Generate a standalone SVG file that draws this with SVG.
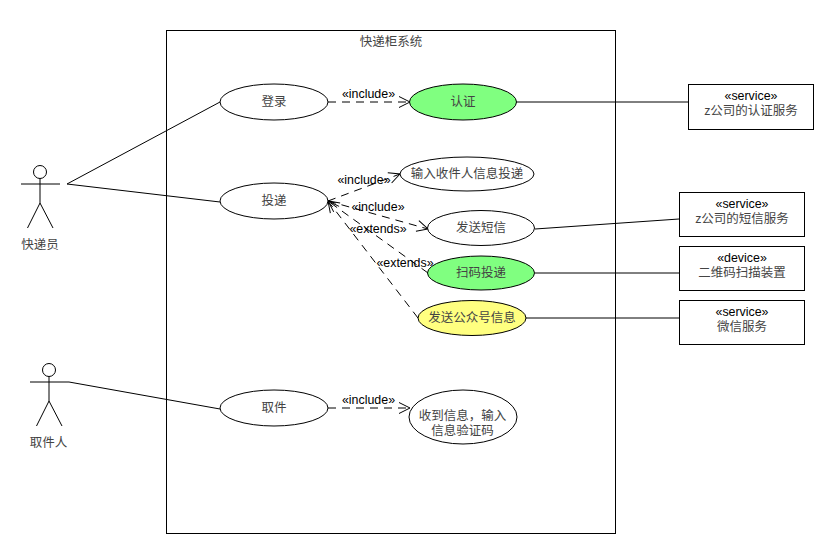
<svg xmlns="http://www.w3.org/2000/svg" width="834" height="550" viewBox="0 0 834 550">
<style>
text{font-family:"Noto Sans CJK SC","Liberation Sans",sans-serif;font-size:12.500px;font-weight:400;text-anchor:middle;fill:#444}
.lat{font-family:"Liberation Sans","Noto Sans CJK SC",sans-serif;font-size:12.400px;font-weight:400;fill:#000}
.s{fill:none;stroke:#000;stroke-width:1}
.d{fill:none;stroke:#000;stroke-width:1;stroke-dasharray:8 6}
.e{fill:#fff;stroke:#000;stroke-width:1}
.g{fill:#80ff80;stroke:#000;stroke-width:1}
.y{fill:#ffff80;stroke:#000;stroke-width:1}
.b{fill:#fff;stroke:#000;stroke-width:1}
</style>
<defs>
<marker id="open" markerUnits="userSpaceOnUse" markerWidth="14" markerHeight="14" refX="12" refY="7" orient="auto"><path d="M1 1.500L12 7L1 12.500" fill="none" stroke="#000"/></marker>
</defs>
<rect width="834" height="550" fill="#fff"/>
<g id="system"><rect x="166.500" y="30.500" width="449" height="503" class="b"/><text x="391" y="46">快递柜系统</text></g>
<g id="connectors">
<path class="s" d="M67 184L220 102M67 184L220 202M69 382L220 409M516 102H688M535 229L679 219M535 273H679M526 318H679"/>
<path class="d" marker-end="url(#open)" d="M328 102H410"/>
<path class="d" marker-end="url(#open)" d="M328 408H410"/>
<path class="d" marker-end="url(#open)" d="M328 201L400 174"/>
<path class="d" marker-end="url(#open)" d="M328 201L428 229"/>
<path class="d" marker-end="url(#open)" d="M428 273L328 201"/>
<path class="d" marker-end="url(#open)" d="M418 318L328 201"/>
<text class="lat" x="368.500" y="98">«include»</text>
<text class="lat" x="364" y="184">«include»</text>
<text class="lat" x="378" y="211">«include»</text>
<text class="lat" x="378" y="233">«extends»</text>
<text class="lat" x="405" y="267">«extends»</text>
<text class="lat" x="368.500" y="404">«include»</text>
</g>
<g id="actor-courier"><circle cx="40" cy="172" r="6.500" fill="#fff" stroke="#000"/><path class="s" d="M40 178.500V203M21 184H60M40 203L27.500 228M40 203L53 228"/><text x="40" y="249">快递员</text></g>
<g id="actor-recipient"><circle cx="49" cy="370" r="6.500" fill="#fff" stroke="#000"/><path class="s" d="M49 376.500V401M30 382H69M49 401L36.500 426M49 401L62 426"/><text x="48.500" y="447">取件人</text></g>
<g id="uc-login"><ellipse cx="274" cy="102" rx="54" ry="18" class="e"/><text x="274" y="106">登录</text></g>
<g id="uc-auth"><ellipse cx="463" cy="102" rx="53.500" ry="18" class="g"/><text x="463" y="106">认证</text></g>
<g id="uc-deliver"><ellipse cx="274" cy="201" rx="54" ry="18" class="e"/><text x="274" y="205">投递</text></g>
<g id="uc-input"><ellipse cx="467" cy="174" rx="67" ry="17" class="e"/><text x="467" y="178">输入收件人信息投递</text></g>
<g id="uc-sms"><ellipse cx="481" cy="228" rx="53.500" ry="17.500" class="e"/><text x="481" y="232">发送短信</text></g>
<g id="uc-scan"><ellipse cx="481" cy="273" rx="53.500" ry="17" class="g"/><text x="481" y="277">扫码投递</text></g>
<g id="uc-wechat"><ellipse cx="472" cy="318" rx="54" ry="17.500" class="y"/><text x="472" y="322">发送公众号信息</text></g>
<g id="uc-pickup"><ellipse cx="274" cy="408" rx="54" ry="18" class="e"/><text x="274" y="412">取件</text></g>
<g id="uc-receive"><ellipse cx="463" cy="417" rx="54" ry="27" class="e"/><text x="462.500" y="420">收到信息，输入</text><text x="462.500" y="435">信息验证码</text></g>
<g id="svc-auth"><rect x="688.500" y="84.500" width="125" height="45" class="b"/><text class="lat" x="751" y="100">«service»</text><text x="751" y="115">z公司的认证服务</text></g>
<g id="svc-sms"><rect x="679.500" y="192.500" width="125" height="44" class="b"/><text class="lat" x="742" y="208">«service»</text><text x="742" y="223">z公司的短信服务</text></g>
<g id="dev-scan"><rect x="679.500" y="246.500" width="125" height="44" class="b"/><text class="lat" x="742" y="262">«device»</text><text x="742" y="277">二维码扫描装置</text></g>
<g id="svc-wechat"><rect x="679.500" y="300.500" width="125" height="44" class="b"/><text class="lat" x="742" y="316">«service»</text><text x="742" y="331">微信服务</text></g>
</svg>
